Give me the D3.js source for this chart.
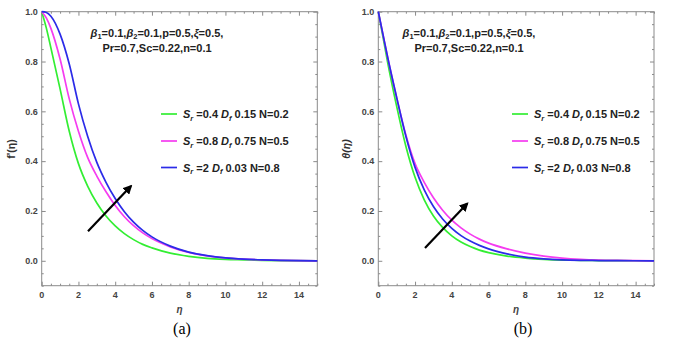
<!DOCTYPE html>
<html><head><meta charset="utf-8">
<script src="https://cdn.jsdelivr.net/npm/d3@7"></script>
<style>
html,body{margin:0;padding:0;background:#fff;}
svg{display:block;font-family:"Liberation Sans",Arial,sans-serif;}
</style></head>
<body>
<svg id="chart" width="685" height="340"></svg>
<script>
// ---- data ----
const eta = [0,0.25,0.5,1,1.5,2,2.5,3,3.5,4,4.5,5,5.5,6,7,8,9,10,11,12,13,15];
// panel (a): f'(eta)
const fGreen = [1,0.935,0.855,0.69,0.52,0.39,0.30,0.232,0.18,0.14,0.109,0.085,0.066,0.052,0.031,0.018,0.010,0.006,0.004,0.002,0.001,0];
const fPink  = [1,0.975,0.933,0.81,0.65,0.52,0.415,0.34,0.277,0.222,0.177,0.141,0.112,0.089,0.056,0.034,0.020,0.012,0.007,0.004,0.002,0];
const fBlue  = [1,0.997,0.982,0.91,0.79,0.63,0.50,0.395,0.315,0.25,0.197,0.155,0.122,0.096,0.059,0.035,0.021,0.012,0.007,0.004,0.002,0];
// panel (b): theta(eta)
const tGreen = [1,0.90,0.80,0.62,0.46,0.335,0.245,0.18,0.134,0.10,0.075,0.057,0.043,0.033,0.019,0.011,0.006,0.003,0.002,0.001,0.0005,0];
const tPink  = [1,0.91,0.82,0.655,0.505,0.39,0.315,0.253,0.203,0.163,0.132,0.107,0.087,0.071,0.048,0.031,0.019,0.011,0.006,0.003,0.0015,0];
const tBlue  = [1,0.91,0.82,0.655,0.50,0.375,0.285,0.218,0.168,0.13,0.101,0.079,0.062,0.048,0.028,0.015,0.008,0.004,0.002,0.001,0.0005,0];
const seriesNames = ["Sr=0.4 Df0.15 N=0.2","Sr=0.8 Df0.75 N=0.5","Sr=2 Df0.03 N=0.8"];
const legendParts = [["0.4","0.15","0.2"],["0.8","0.75","0.5"],["2","0.03","0.8"]];
const colors = ["#33ee33","#f53cf0","#2b2be8"];
const xTicks = [0,2,4,6,8,10,12,14];
const yTicks = [0.0,0.2,0.4,0.6,0.8,1.0];
const arrowA = [[2.52,0.119],[4.86,0.30]];
const arrowB = [[2.54,0.051],[4.84,0.23]];

const svg = d3.select("#chart");
const defs = svg.append("defs");
defs.append("marker").attr("id","ah").attr("viewBox","0 0 10 10")
  .attr("refX",8).attr("refY",5).attr("markerWidth",4.2).attr("markerHeight",4.2)
  .attr("orient","auto").attr("markerUnits","strokeWidth")
  .append("path").attr("d","M0,0 L10,5 L0,10 Z").attr("fill","#000");

const yTop = 11.7, yBot = 285.7;
const panels = [
  {x0:41.7, x1:317.3, ys:[fGreen,fPink,fBlue], ylab:"f'(η)", ylabX:15, ylabItalic:false, arrow:arrowA, tag:"(a)", tagX:182, annX:157, legX:161},
  {x0:378.3, x1:654, ys:[tGreen,tPink,tBlue], ylab:"θ(η)", ylabX:350, ylabItalic:true, arrow:arrowB, tag:"(b)", tagX:523, annX:469, legX:512}
];

panels.forEach(p => {
  const x = d3.scaleLinear().domain([0,15]).range([p.x0,p.x1]);
  const y = d3.scaleLinear().domain([-0.1,1.0]).range([yBot,yTop]);
  const g = svg.append("g");
  const frameCol = "#8a8a8a";
  const minorX = d3.range(0,15.01,0.5).filter(v => v%2!==0);
  const minorY = d3.range(-0.1,1.001,0.05).map(v=>+v.toFixed(2)).filter(v => Math.abs(v*5-Math.round(v*5))>1e-6);
  function tickAxis(axisFn, scale, vals, size, tr){
    const a = g.append("g").attr("transform",tr)
      .call(axisFn(scale).tickValues(vals).tickSize(size).tickFormat(""));
    a.select(".domain").remove();
    a.selectAll("line").attr("stroke",frameCol);
  }
  tickAxis(d3.axisBottom, x, xTicks, -4, `translate(0,${yBot})`);
  tickAxis(d3.axisBottom, x, minorX, -2, `translate(0,${yBot})`);
  tickAxis(d3.axisTop, x, xTicks, -4, `translate(0,${yTop})`);
  tickAxis(d3.axisTop, x, minorX, -2, `translate(0,${yTop})`);
  tickAxis(d3.axisLeft, y, yTicks, -4, `translate(${p.x0},0)`);
  tickAxis(d3.axisLeft, y, minorY, -2, `translate(${p.x0},0)`);
  tickAxis(d3.axisRight, y, yTicks, -4, `translate(${p.x1},0)`);
  tickAxis(d3.axisRight, y, minorY, -2, `translate(${p.x1},0)`);
  g.append("rect").attr("x",p.x0).attr("y",yTop).attr("width",p.x1-p.x0).attr("height",yBot-yTop)
    .attr("fill","none").attr("stroke",frameCol).attr("stroke-width",1);
  // tick labels
  g.selectAll(".xl").data(xTicks).join("text").attr("x",d=>x(d)).attr("y",297.5)
    .attr("text-anchor","middle").attr("font-size",9).attr("font-weight","bold").attr("fill","#444").text(d=>d);
  g.selectAll(".yl").data(yTicks).join("text").attr("x",p.x0-4).attr("y",d=>y(d)+3.2)
    .attr("text-anchor","end").attr("font-size",9).attr("font-weight","bold").attr("fill","#444").text(d=>d.toFixed(1));
  // axis labels
  g.append("text").attr("x",(p.x0+p.x1)/2).attr("y",313).attr("text-anchor","middle")
    .attr("font-size",10).attr("font-weight","bold").attr("font-style","italic").attr("fill","#444").text("η");
  g.append("text").attr("transform",`translate(${p.ylabX},149) rotate(-90)`).attr("text-anchor","middle")
    .attr("font-size",10.5).attr("font-weight","bold").attr("font-style",p.ylabItalic?"italic":"normal")
    .attr("fill","#333").text(p.ylab);
  g.append("text").attr("x",p.tagX).attr("y",334).attr("text-anchor","middle")
    .attr("font-family","'Liberation Serif','Times New Roman',serif").attr("font-size",16).attr("fill","#000").text(p.tag);
  // curves
  const line = d3.line().x((d,i)=>x(eta[i])).y(d=>y(d)).curve(d3.curveMonotoneX);
  p.ys.forEach((arr,k) => {
    g.append("path").attr("d",line(arr)).attr("fill","none").attr("stroke",colors[k]).attr("stroke-width",1.7);
  });
  // arrow
  g.append("line").attr("x1",x(p.arrow[0][0])).attr("y1",y(p.arrow[0][1]))
    .attr("x2",x(p.arrow[1][0])).attr("y2",y(p.arrow[1][1]))
    .attr("stroke","#000").attr("stroke-width",2.2).attr("marker-end","url(#ah)");
  // annotation
  const a1 = g.append("text").attr("x",p.annX).attr("y",36.5).attr("text-anchor","middle")
    .attr("font-size",11).attr("font-weight","bold").attr("fill","#222");
  a1.append("tspan").attr("font-style","italic").text("β");
  a1.append("tspan").attr("font-size",7.5).attr("dy",2.5).text("1");
  a1.append("tspan").attr("dy",-2.5).text("=0.1,");
  a1.append("tspan").attr("font-style","italic").text("β");
  a1.append("tspan").attr("font-size",7.5).attr("dy",2.5).text("2");
  a1.append("tspan").attr("dy",-2.5).text("=0.1,p=0.5,");
  a1.append("tspan").attr("font-style","italic").text("ξ");
  a1.append("tspan").text("=0.5,");
  g.append("text").attr("x",p.annX).attr("y",52).attr("text-anchor","middle")
    .attr("font-size",11).attr("font-weight","bold").attr("fill","#222").text("Pr=0.7,Sc=0.22,n=0.1");
  // legend
  const rows = [114,141,167.5];
  legendParts.forEach((lp,k) => {
    g.append("line").attr("x1",p.legX).attr("x2",p.legX+16).attr("y1",rows[k]).attr("y2",rows[k])
      .attr("stroke",colors[k]).attr("stroke-width",1.7);
    const t = g.append("text").attr("x",p.legX+22).attr("y",rows[k]+4)
      .attr("font-size",11).attr("font-weight","bold").attr("fill","#222");
    t.append("title").text(seriesNames[k]);
    t.append("tspan").attr("font-style","italic").text("S");
    t.append("tspan").attr("font-style","italic").attr("font-size",7.5).attr("dy",2.5).text("r");
    t.append("tspan").attr("dy",-2.5).text(" =" + lp[0] + " ");
    t.append("tspan").attr("font-style","italic").text("D");
    t.append("tspan").attr("font-style","italic").attr("font-size",7.5).attr("dy",2.5).text("f");
    t.append("tspan").attr("dy",-2.5).text(" " + lp[1] + " N=" + lp[2]);
  });
});
</script>
</body></html>
